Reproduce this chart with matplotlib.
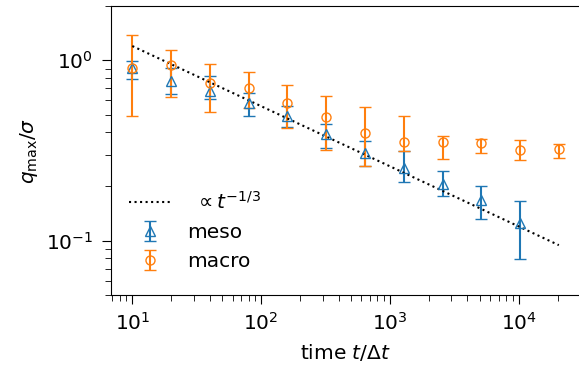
import numpy as np
import matplotlib
matplotlib.use("Agg")
import matplotlib.pyplot as plt

# time steps (in units of dt)
t_meso = [10, 20, 40, 80, 160, 320, 640, 1280, 2560, 5120, 10240]
t_macro = [10, 20, 40, 80, 160, 320, 640, 1280, 2560, 5120, 10240, 20480]

# meso: centre, upper and lower end of error bar
q_meso = [0.911, 0.767, 0.677, 0.582, 0.490, 0.392, 0.305, 0.253, 0.206, 0.169, 0.125]
q_meso_hi = [0.991, 0.903, 0.815, 0.656, 0.557, 0.441, 0.356, 0.313, 0.243, 0.202, 0.165]
q_meso_lo = [0.787, 0.651, 0.607, 0.494, 0.426, 0.325, 0.259, 0.212, 0.178, 0.132, 0.079]

# macro
q_macro = [0.903, 0.942, 0.745, 0.703, 0.577, 0.487, 0.397, 0.353, 0.351, 0.349, 0.320, 0.324]
q_macro_hi = [1.382, 1.137, 0.950, 0.866, 0.729, 0.631, 0.550, 0.490, 0.383, 0.364, 0.361, 0.344]
q_macro_lo = [0.489, 0.629, 0.516, 0.541, 0.419, 0.319, 0.259, 0.313, 0.282, 0.307, 0.279, 0.286]

# power law guide
A_fit = 2.585
t_fit = np.array([10, 20480])

plt.rcParams['font.size'] = 14.5
plt.rcParams['xtick.major.size'] = 6.8
plt.rcParams['ytick.major.size'] = 6.8
plt.rcParams['xtick.minor.size'] = 4.3
plt.rcParams['ytick.minor.size'] = 4.3
plt.rcParams['xtick.major.pad'] = 5
plt.rcParams['ytick.major.pad'] = 6

fig = plt.figure(figsize=(5.79, 3.69), dpi=100)
ax = fig.add_axes([0.1917, 0.2005, 0.8103, 0.7832])

q_meso = np.array(q_meso)
q_macro = np.array(q_macro)
err_meso = [q_meso - np.array(q_meso_lo), np.array(q_meso_hi) - q_meso]
err_macro = [q_macro - np.array(q_macro_lo), np.array(q_macro_hi) - q_macro]

ax.errorbar(t_meso, q_meso, yerr=err_meso, fmt='^', color='C0', mfc='none',
            ms=6.5, capsize=4.3, label='meso')
ax.errorbar(t_macro, q_macro, yerr=err_macro, fmt='o', color='C1', mfc='none',
            ms=6.5, capsize=4.3, label='macro')
ax.plot(t_fit, A_fit * t_fit ** (-1 / 3), 'k:', label=r' $\propto t^{-1/3}$')

ax.set_xscale('log')
ax.set_yscale('log')
ax.set_ylim(0.05, 2.0)
ax.set_xlabel(r'time $t/\Delta t$', labelpad=6)
ax.set_ylabel(r'$q_{\max}/\sigma$')

handles, labels = ax.get_legend_handles_labels()
order = [labels.index(r' $\propto t^{-1/3}$'), labels.index('meso'), labels.index('macro')]
ax.legend([handles[i] for i in order], [labels[i] for i in order],
          loc='lower left', bbox_to_anchor=(0, 0.02), frameon=False,
          handlelength=2.1, handletextpad=0.8)

fig.savefig('out.png', dpi=100)
